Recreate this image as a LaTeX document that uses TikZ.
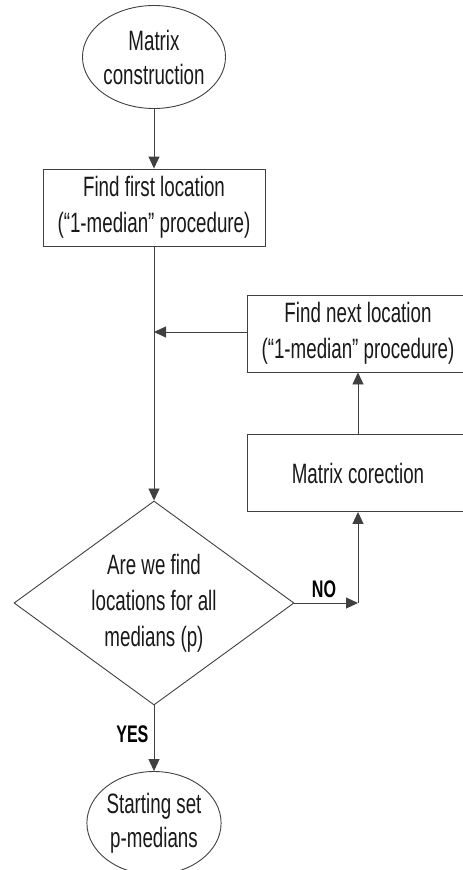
\documentclass[tikz,border=0pt]{standalone}
\usepackage{fontspec}
\setmainfont{Liberation Sans}[FakeStretch=0.67]
\usepackage{tikz}
\usetikzlibrary{shapes.geometric,arrows.meta}

\tikzset{
  flowline/.style={draw=black!75, line width=0.9pt},
  flowarrow/.style={flowline, -{Triangle[length=12pt,width=11pt]}},
  terminal/.style={ellipse, flowline, minimum width=128pt, minimum height=103pt,
    inner sep=0pt, align=center, font=\fontsize{28}{34}\selectfont, text=black!90},
  procbox/.style={rectangle, flowline, minimum width=222pt, minimum height=77pt,
    inner sep=0pt, align=center, font=\fontsize{28}{36}\selectfont, text=black!90},
  decision/.style={diamond, flowline, aspect=1.37, minimum width=280pt, minimum height=204pt,
    inner sep=0pt, align=center, font=\fontsize{28}{36}\selectfont, text=black!90},
  answer/.style={font=\fontsize{24}{24}\selectfont\bfseries, text=black}
}

\begin{document}
\begin{tikzpicture}[x=1pt,y=-1pt]

% Parameters for drawing only
\def\mainx{154}
\def\sidex{358}

% Page
\useasboundingbox (0,0) rectangle (463,870);
\clip (0,0) rectangle (463,870);

% Main column
\node[terminal] (mc) at (\mainx,57) {Matrix\\construction};
\node[procbox] (ffl) at (\mainx,207.5) {Find first location\\(“1-median” procedure)};
\node[decision] (dec) at (\mainx,603) {Are we find\\locations for all\\medians (p)};
\node[terminal] (sp) at (\mainx,823) {Starting set\\p-medians};

% Side column
\node[procbox] (fnl) at (\sidex,333.5) {Find next location\\(“1-median” procedure)};
\node[procbox] (mco) at (\sidex,473) {Matrix corection};

% Helper points
\coordinate (join) at (\mainx,332);
\coordinate (nocorner) at (\sidex,603);

% Connectors
\draw[flowarrow] (mc) -- (ffl);
\draw[flowarrow] (ffl) -- (dec);
\draw[flowarrow] (fnl.west |- join) -- (join);
\draw[flowarrow] (mco) -- (fnl);
\draw[flowarrow] (dec.east) -- (nocorner);
\draw[flowarrow] (nocorner) -- (mco.south);
\draw[flowarrow] (dec.south) -- (sp.north);

% Labels
\node[answer, above] (no) at (324,601) {NO};
\node[answer, left] (yes) at (\mainx-2,734) {YES};

\end{tikzpicture}
\end{document}
